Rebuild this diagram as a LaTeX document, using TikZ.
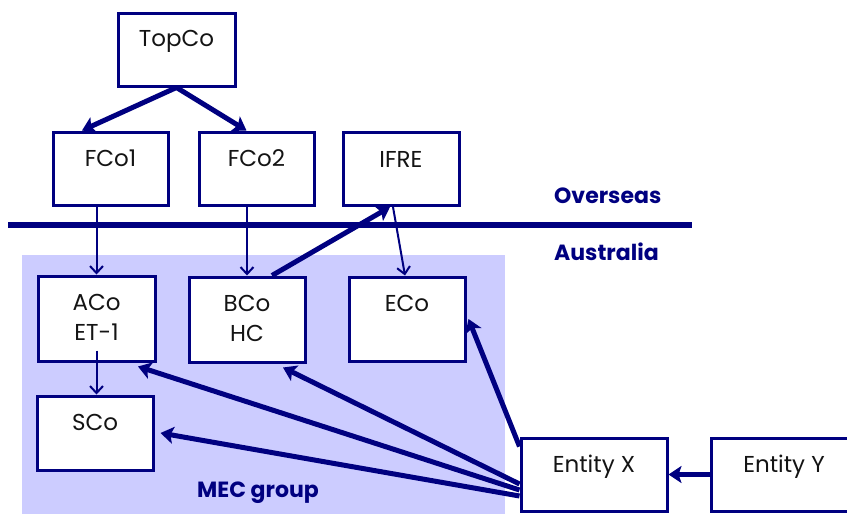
\documentclass[tikz,border=0pt]{standalone}
\usepackage{fontspec}
\setmainfont{Poppins}
\usetikzlibrary{arrows.meta,calc}
\definecolor{navy}{RGB}{0,0,128}
\definecolor{mecfill}{RGB}{204,204,255}
\definecolor{txt}{RGB}{20,20,20}
\tikzset{
  box/.style={draw=navy, line width=3pt, fill=white, inner sep=0pt},
  lbl/.style={anchor=base, inner sep=0pt, text=txt, font=\fontsize{23}{30}\selectfont, align=center},
  region/.style={anchor=base west, inner sep=0pt, text=navy, font=\fontsize{22}{24}\selectfont\bfseries},
  thick arrow/.style={draw=navy, line width=5pt, -{Stealth[length=13pt,width=17pt,inset=3pt]}},
  thin arrow/.style={draw=navy, line width=2pt, -{Straight Barb[length=7pt,width=13pt]}},
}
\begin{document}
\begin{tikzpicture}[x=1pt,y=-1pt]
\useasboundingbox (0,0) rectangle (847,514);
\begin{scope}
\clip (0,0) rectangle (847,514);
\fill[mecfill] (22,255) rectangle (505,516);
\draw[navy, line width=5.5pt] (8,225) -- (692,225);

\node[box, minimum width=117pt, minimum height=73pt] (topco) at (176.5,49.5) {};
\node[box, minimum width=115pt, minimum height=73pt] (fco1) at (110.5,168.5) {};
\node[box, minimum width=115pt, minimum height=73pt] (fco2) at (256.5,168.5) {};
\node[box, minimum width=116pt, minimum height=73pt] (ifre) at (401,169) {};
\node[box, minimum width=117pt, minimum height=85pt] (aco) at (96.5,318.5) {};
\node[box, minimum width=116pt, minimum height=85pt] (bco) at (247,319.5) {};
\node[box, minimum width=116pt, minimum height=84pt] (eco) at (407,319) {};
\node[box, minimum width=116pt, minimum height=74pt] (sco) at (95,433) {};
\node[box, minimum width=146pt, minimum height=73pt] (ex) at (594,474.5) {};
\node[box, minimum width=146pt, minimum height=73pt] (ey) at (784,474.5) {};

\node[lbl] (topcoT) at ([yshift=-35pt]topco.north) {TopCo};
\node[lbl] (fco1T) at ([yshift=-36pt]fco1.north) {FCo1};
\node[lbl] (fco2T) at ([yshift=-36pt]fco2.north) {FCo2};
\node[lbl] (ifreT) at ([yshift=-36pt]ifre.north) {IFRE};
\node[lbl] (acoT) at ([yshift=-36pt]aco.north) {ACo};
\node[lbl] (acoT2) at ([yshift=-66pt]aco.north) {ET-1};
\node[lbl] (bcoT) at ([yshift=-36pt]bco.north) {BCo};
\node[lbl] (bcoT2) at ([yshift=-66pt]bco.north) {HC};
\node[lbl] (ecoT) at ([yshift=-36pt]eco.north) {ECo};
\node[lbl] (scoT) at ([yshift=-36pt]sco.north) {SCo};
\node[lbl] (exT) at ([yshift=-36pt]ex.north) {Entity X};
\node[lbl] (eyT) at ([yshift=-36pt]ey.north) {Entity Y};

\node[region] (overseas) at (554,203) {Overseas};
\node[region] (australia) at (554,260) {Australia};
\node[region] (mec) at (197,497) {MEC group};

\draw[thick arrow] (topco.south) -- ([xshift=-28.5pt]fco1.north);
\draw[thick arrow] (topco.south) -- ([xshift=-10pt]fco2.north);
\draw[thin arrow] (aco.north |- fco1.south) -- (aco.north);
\draw[thin arrow] (bco.north |- fco2.south) -- (bco.north);
\draw[thin arrow] ([xshift=-8pt]ifre.south) -- ([xshift=-2pt]eco.north);
\draw[thick arrow] ([xshift=25pt]bco.north) -- ([xshift=-11pt]ifre.south);
\draw[thin arrow] ([yshift=12pt]aco.south) -- (aco.south |- sco.north);

\draw[thick arrow] ([yshift=28pt]ex.west) -- ([xshift=2pt]eco.east);
\draw[thick arrow] ([yshift=-9.5pt]ex.west) -- ([xshift=36pt,yshift=-4pt]bco.south);
\draw[thick arrow] ([yshift=-15.5pt]ex.west) -- ([xshift=41.5pt,yshift=-4pt]aco.south);
\draw[thick arrow] ([yshift=-21.5pt]ex.west) -- ([xshift=6pt]sco.east);
\draw[thick arrow] (ey.west) -- (ex.east);
\end{scope}
\end{tikzpicture}
\end{document}
